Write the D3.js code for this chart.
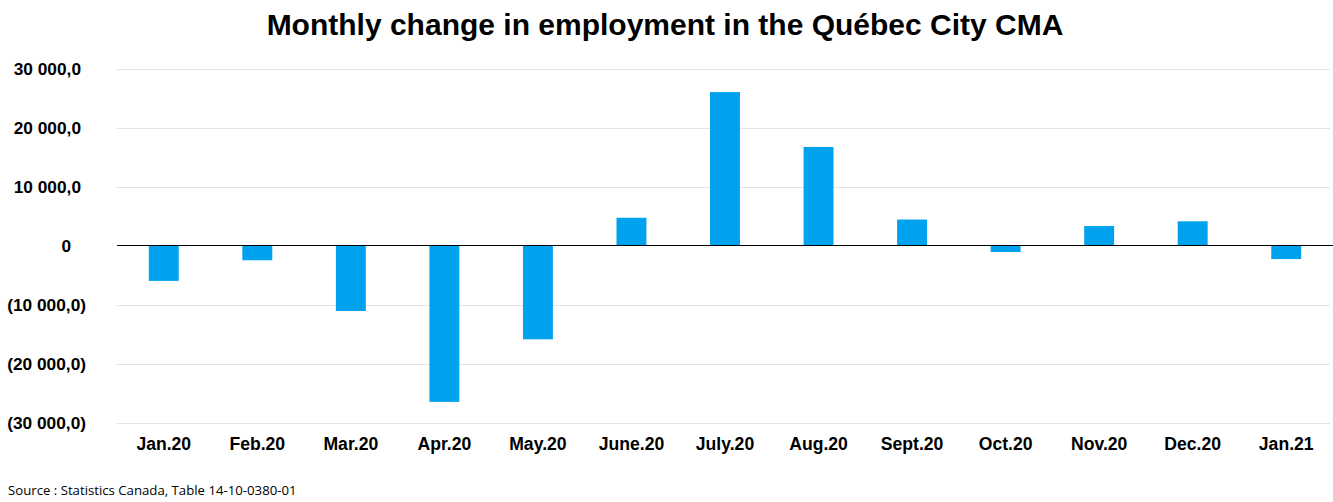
<!DOCTYPE html>
<html>
<head>
<meta charset="utf-8">
<script src="https://cdn.jsdelivr.net/npm/d3@7"></script>
<style>
  body { margin: 0; background: #fff; }
  svg { display: block; }
</style>
</head>
<body>
<script>
// Chart data
const months = ["Jan.20", "Feb.20", "Mar.20", "Apr.20", "May.20", "June.20", "July.20",
  "Aug.20", "Sept.20", "Oct.20", "Nov.20", "Dec.20", "Jan.21"];
const change = [-6000, -2500, -11100, -26500, -15900, 4700, 26000,
  16700, 4400, -1100, 3300, 4100, -2300];
const yTicks = [-30000, -20000, -10000, 0, 10000, 20000, 30000];

const title = "Monthly change in employment in the Québec City CMA";
const source = "Source : Statistics Canada, Table 14-10-0380-01";

const width = 1333;
const height = 502;
const margin = { top: 68, right: 0, bottom: 79, left: 117 };

const svg = d3.select("body").append("svg")
  .attr("width", width)
  .attr("height", height);

const x = d3.scaleBand()
  .domain(months)
  .range([margin.left, width - margin.right])
  .paddingInner(0.68)
  .paddingOuter(0.34);

const y = d3.scaleLinear()
  .domain([-30000, 30000])
  .range([height - margin.bottom - 0.5, margin.top + 0.5]);

// number format like "20 000,0" and "(10 000,0)"
const fmtNum = d3.formatLocale({ decimal: ",", thousands: " ", grouping: [3], currency: ["", ""] }).format(",.1f");
function fmt(v) {
  if (v === 0) return "0";
  if (v < 0) return "(" + fmtNum(-v) + ")";
  return fmtNum(v);
}

// gridlines
svg.append("g")
  .selectAll("line")
  .data(yTicks.filter(d => d !== 0))
  .join("line")
  .attr("x1", margin.left)
  .attr("x2", width - 3)
  .attr("y1", d => Math.round(y(d)) + 0.5)
  .attr("y2", d => Math.round(y(d)) + 0.5)
  .attr("stroke", "#e3e3e3")
  .attr("stroke-width", 1);

// y labels
svg.append("g")
  .attr("font-family", "Arial, 'Liberation Sans', sans-serif")
  .attr("font-weight", "bold")
  .attr("font-size", 17.3)
  .attr("fill", "#000")
  .selectAll("text")
  .data(yTicks)
  .join("text")
  .attr("x", d => d < 0 ? 86 : d === 0 ? 71 : 81)
  .attr("y", d => y(d))
  .attr("dy", "0.35em")
  .attr("text-anchor", "end")
  .text(fmt);

// bars
svg.append("g")
  .attr("fill", "#00a2ee")
  .selectAll("rect")
  .data(months.map((m, i) => ({ m, v: change[i] })))
  .join("rect")
  .attr("x", d => x(d.m))
  .attr("width", x.bandwidth())
  .attr("y", d => y(Math.max(0, d.v)))
  .attr("height", d => Math.abs(y(d.v) - y(0)));

// zero line
svg.append("line")
  .attr("x1", margin.left)
  .attr("x2", width)
  .attr("y1", y(0))
  .attr("y2", y(0))
  .attr("stroke", "#000")
  .attr("stroke-width", 1.2);

// x labels
svg.append("g")
  .attr("font-family", "Arial, 'Liberation Sans', sans-serif")
  .attr("font-weight", "bold")
  .attr("font-size", 17.6)
  .attr("fill", "#000")
  .attr("text-anchor", "middle")
  .selectAll("text")
  .data(months)
  .join("text")
  .attr("x", d => x(d) + x.bandwidth() / 2)
  .attr("y", 450)
  .text(d => d);

// title
svg.append("text")
  .attr("x", 665)
  .attr("y", 35)
  .attr("text-anchor", "middle")
  .attr("font-family", "Arial, 'Liberation Sans', sans-serif")
  .attr("font-weight", "bold")
  .attr("font-size", 30)
  .text(title);

// source
svg.append("text")
  .attr("x", 8)
  .attr("y", 495)
  .attr("font-family", "'Open Sans', sans-serif")
  .attr("font-size", 13.2)
  .text(source);
</script>
</body>
</html>
